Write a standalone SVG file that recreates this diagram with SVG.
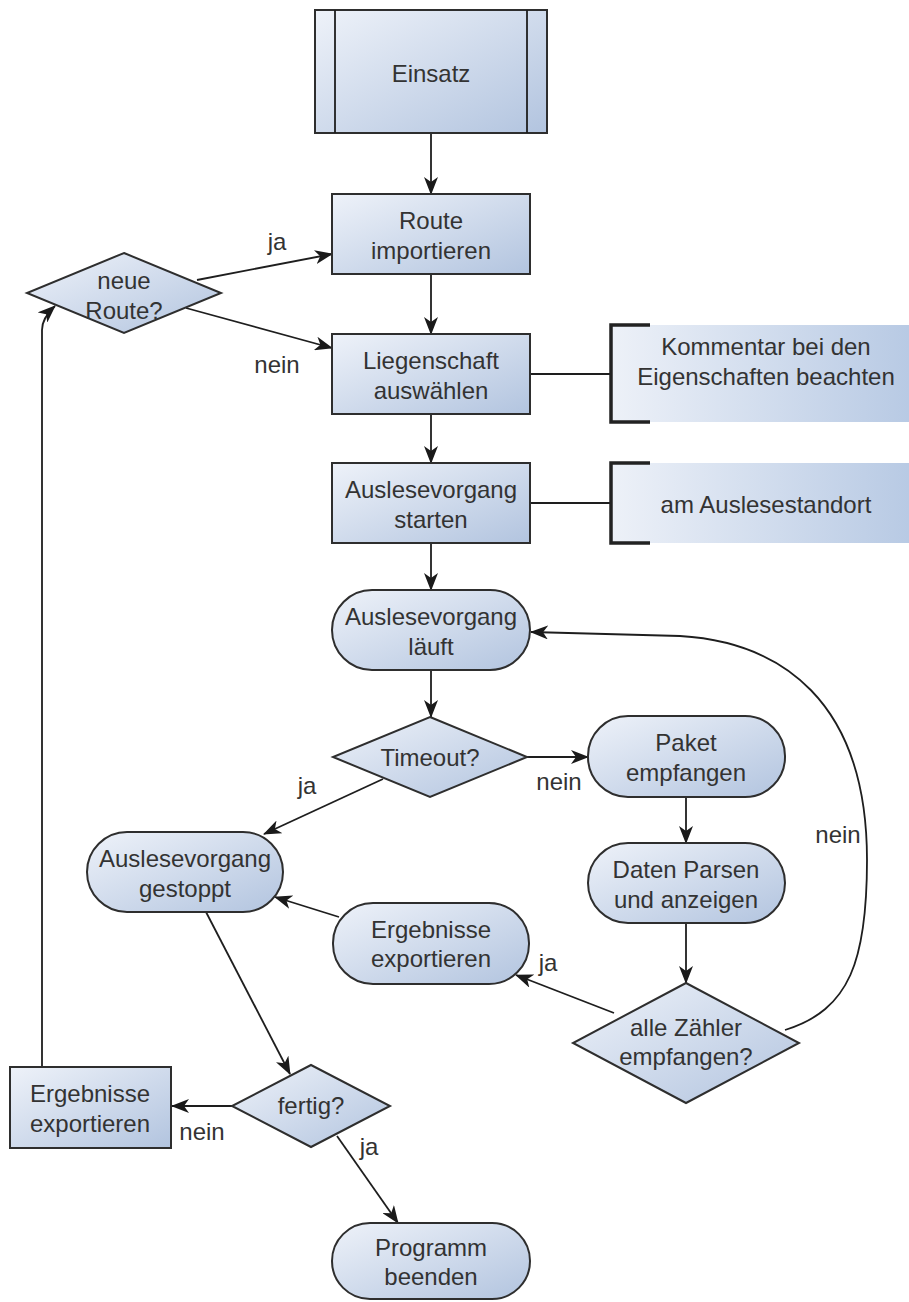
<svg xmlns="http://www.w3.org/2000/svg" width="909" height="1302" viewBox="0 0 909 1302">
<defs>
<linearGradient id="g" x1="0" y1="0" x2="1" y2="1">
<stop offset="0" stop-color="#eef2f9"/>
<stop offset="1" stop-color="#b2c4df"/>
</linearGradient>
<linearGradient id="gc" x1="0" y1="0" x2="1" y2="0">
<stop offset="0" stop-color="#edf1f8"/>
<stop offset="1" stop-color="#b8cae4"/>
</linearGradient>
<marker id="arr" markerUnits="userSpaceOnUse" viewBox="0 0 18 14" refX="17" refY="7" markerWidth="18" markerHeight="14" orient="auto">
<path d="M0,0 L18,7 L0,14 L5,7 z" fill="#1a1a1a"/>
</marker>
</defs>
<style>
.n{fill:url(#g);stroke:#2e2e2e;stroke-width:2}
.t{font-family:"Liberation Sans",Arial,sans-serif;font-size:24px;fill:#333;text-anchor:middle}
.c{fill:none;stroke:#1e1e1e;stroke-width:1.8}
.a{marker-end:url(#arr)}
.b{fill:none;stroke:#222;stroke-width:3.5}
</style>
<rect width="909" height="1302" fill="#ffffff"/>
<g id="connectors">
<path class="c a" d="M431,133 L431,194"/>
<path class="c a" d="M431,274 L431,334"/>
<path class="c a" d="M431,414 L431,463"/>
<path class="c a" d="M431,543 L431,590"/>
<path class="c a" d="M431,670 L431,717"/>
<path class="c a" d="M527,757 L588,757"/>
<path class="c a" d="M383,779 L264,834"/>
<path class="c a" d="M686,797 L686,843"/>
<path class="c a" d="M686,923 L686,983"/>
<path class="c a" d="M614,1013 L516,975"/>
<path class="c a" d="M785,1030 C850,1010 867,960 867,860 C867,700 780,642 680,636 L531,632"/>
<path class="c a" d="M339,917 L275,897"/>
<path class="c a" d="M206,912 L290,1074"/>
<path class="c a" d="M232,1106 L172,1106"/>
<path class="c a" d="M337,1136 L398,1223"/>
<path class="c a" d="M42,1067 L42,330 Q42,318 55,306"/>
<path class="c a" d="M197,280 L332,254"/>
<path class="c a" d="M186,308 L332,348"/>
<path class="c" d="M530,374 L611,374"/>
<path class="c" d="M530,503 L611,503"/>
<text class="t" x="559" y="790">nein</text>
<text class="t" x="307" y="794">ja</text>
<text class="t" x="548" y="971">ja</text>
<text class="t" x="838" y="843">nein</text>
<text class="t" x="202" y="1140">nein</text>
<text class="t" x="369" y="1155">ja</text>
<text class="t" x="277" y="250">ja</text>
<text class="t" x="277" y="373">nein</text>
</g>
<g id="einsatz">
<rect class="n" x="315" y="10" width="232" height="123"/>
<line class="c" x1="335" y1="10" x2="335" y2="133" stroke-width="2"/>
<line class="c" x1="527" y1="10" x2="527" y2="133" stroke-width="2"/>
<text class="t" x="431" y="82">Einsatz</text>
</g>
<g id="route-importieren">
<rect class="n" x="332" y="194" width="198" height="80"/>
<text class="t" x="431" y="229">Route</text>
<text class="t" x="431" y="259">importieren</text>
</g>
<g id="liegenschaft">
<rect class="n" x="332" y="334" width="198" height="80"/>
<text class="t" x="431" y="369">Liegenschaft</text>
<text class="t" x="431" y="399">auswählen</text>
</g>
<g id="auslese-starten">
<rect class="n" x="332" y="463" width="198" height="80"/>
<text class="t" x="431" y="498">Auslesevorgang</text>
<text class="t" x="431" y="528">starten</text>
</g>
<g id="auslese-laeuft">
<rect class="n" x="332" y="590" width="198" height="80" rx="40" ry="40"/>
<text class="t" x="431" y="625">Auslesevorgang</text>
<text class="t" x="431" y="655">läuft</text>
</g>
<g id="timeout">
<polygon class="n" points="430,717 527,757 430,797 333,757"/>
<text class="t" x="430" y="766">Timeout?</text>
</g>
<g id="paket">
<rect class="n" x="588" y="716" width="197" height="81" rx="40" ry="40"/>
<text class="t" x="686" y="751">Paket</text>
<text class="t" x="686" y="781">empfangen</text>
</g>
<g id="daten">
<rect class="n" x="588" y="843" width="197" height="80" rx="40" ry="40"/>
<text class="t" x="686" y="878">Daten Parsen</text>
<text class="t" x="686" y="908">und anzeigen</text>
</g>
<g id="alle-zaehler">
<polygon class="n" points="686,983 799,1043 686,1103 573,1043"/>
<text class="t" x="686" y="1036">alle Zähler</text>
<text class="t" x="686" y="1065">empfangen?</text>
</g>
<g id="ergebnisse-mitte">
<rect class="n" x="333" y="903" width="196" height="81" rx="40" ry="40"/>
<text class="t" x="431" y="938">Ergebnisse</text>
<text class="t" x="431" y="967">exportieren</text>
</g>
<g id="gestoppt">
<rect class="n" x="87" y="832" width="196" height="80" rx="40" ry="40"/>
<text class="t" x="185" y="867">Auslesevorgang</text>
<text class="t" x="185" y="897">gestoppt</text>
</g>
<g id="fertig">
<polygon class="n" points="311,1065 390,1106 311,1147 232,1106"/>
<text class="t" x="311" y="1114">fertig?</text>
</g>
<g id="ergebnisse-links">
<rect class="n" x="10" y="1067" width="161" height="81"/>
<text class="t" x="90" y="1102">Ergebnisse</text>
<text class="t" x="90" y="1132">exportieren</text>
</g>
<g id="programm-beenden">
<rect class="n" x="332" y="1223" width="198" height="76" rx="38" ry="38"/>
<text class="t" x="431" y="1256">Programm</text>
<text class="t" x="431" y="1285">beenden</text>
</g>
<g id="neue-route">
<polygon class="n" points="124,253 221,293 124,333 27,293"/>
<text class="t" x="124" y="289">neue</text>
<text class="t" x="124" y="319">Route?</text>
</g>
<g id="kommentar-1">
<rect x="611" y="325" width="298" height="97" fill="url(#gc)"/>
<path class="b" d="M650,325 L611,325 L611,422 L650,422"/>
<text class="t" x="766" y="355">Kommentar bei den</text>
<text class="t" x="766" y="385">Eigenschaften beachten</text>
</g>
<g id="kommentar-2">
<rect x="611" y="463" width="298" height="80" fill="url(#gc)"/>
<path class="b" d="M650,463 L611,463 L611,543 L650,543"/>
<text class="t" x="766" y="513">am Auslesestandort</text>
</g>
</svg>
